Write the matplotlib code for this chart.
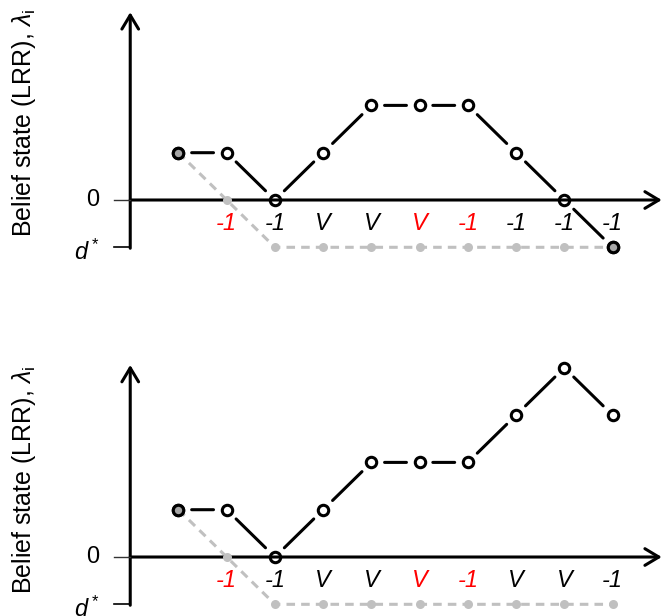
import matplotlib
matplotlib.use('Agg')
import matplotlib.pyplot as plt
import numpy as np

plt.rcParams['font.family'] = ['Liberation Sans', 'DejaVu Sans']
plt.rcParams['mathtext.fontset'] = 'custom'
plt.rcParams['mathtext.rm'] = 'Liberation Sans'
plt.rcParams['mathtext.it'] = 'Liberation Sans:italic'

# belief state (LRR) per sample, and the decision bound d (grey dotted)
steps = np.arange(10)
top_lrr = [1, 1, 0, 1, 2, 2, 2, 1, 0, -1]
top_bound = [1, 0, -1, -1, -1, -1, -1, -1, -1, -1]
top_labels = ['-1', '-1', 'V', 'V', 'V', '-1', '-1', '-1', '-1']
top_colors = ['red', 'black', 'black', 'black', 'red', 'red', 'black', 'black', 'black']

bottom_lrr = [1, 1, 0, 1, 2, 2, 2, 3, 4, 3]
bottom_bound = [1, 0, -1, -1, -1, -1, -1, -1, -1, -1]
bottom_labels = ['-1', '-1', 'V', 'V', 'V', '-1', 'V', 'V', '-1']
bottom_colors = ['red', 'black', 'black', 'black', 'red', 'red', 'black', 'black', 'black']

d_star = -1
GREY = '#c0c0c0'


def draw_panel(ax, lrr, bound, labels, colors, ylim, ytop):
    ax.set_xlim(-3.70, 10.17)
    ax.set_ylim(*ylim)
    ax.axis('off')

    # axes with arrows
    arr = dict(arrowstyle='->,head_length=0.5,head_width=0.3', lw=2.2, color='black',
               shrinkA=0, shrinkB=0, mutation_scale=20)
    ax.annotate('', xy=(10.02, 0), xytext=(-1, 0), arrowprops=arr, zorder=3)
    ax.annotate('', xy=(-1, ytop), xytext=(-1, d_star - 0.02), arrowprops=arr, zorder=3)
    ax.plot([-1.33, -1], [0, 0], color='#333333', lw=1, zorder=3)
    ax.plot([-1.33, -1], [d_star, d_star], color='black', lw=1.2, zorder=3)
    ax.text(-1.77, 0, '0', fontsize=17, ha='center', va='center')
    ax.text(-1.9, d_star - 0.1, r'$d^*$', fontsize=17, ha='center', va='center')
    ax.text(-3.2, 1.62, r'Belief state (LRR), $\lambda_\mathrm{i}$', fontsize=18,
            rotation=90, ha='center', va='center')

    # bound
    ax.plot(steps, bound, color=GREY, lw=2.2, ls=(0, (2.8, 2)), zorder=1)
    ax.plot(steps[1:], bound[1:], 'o', color=GREY, ms=6.5, mew=0, zorder=4)

    # LRR trajectory, segments shortened around the markers
    for i in range(len(steps) - 1):
        ax.annotate('', xy=(steps[i + 1], lrr[i + 1]), xytext=(steps[i], lrr[i]),
                    arrowprops=dict(arrowstyle='-', lw=2.2, color='black',
                                    shrinkA=9.5, shrinkB=9.5), zorder=5)
    ax.plot(steps, lrr, 'o', mfc='none', mec='black', ms=7.5, mew=2.2, zorder=6)
    filled = [i for i in steps if i == 0 or lrr[i] <= d_star]
    ax.plot(steps[filled], np.array(lrr)[filled], 'o', mfc='#a6a6a6', mec='black',
            ms=7.5, mew=2.2, zorder=7)

    # sample labels
    for i, (lab, c) in enumerate(zip(labels, colors)):
        ax.text(steps[i + 1], -0.49, lab, fontsize=17, style='italic', color=c,
                ha='center', va='center')


fig = plt.figure(figsize=(6.69, 6.16), dpi=100)
ax1 = fig.add_axes([0, 316 / 616, 1, 300 / 616])
ax2 = fig.add_axes([0, 0, 1, 316 / 616])

draw_panel(ax1, top_lrr, top_bound, top_labels, top_colors, (-2.114, 4.228), 3.97)
draw_panel(ax2, bottom_lrr, bottom_bound, bottom_labels, bottom_colors, (-1.247, 5.433), 4.06)

fig.savefig('out.png', dpi=100)
